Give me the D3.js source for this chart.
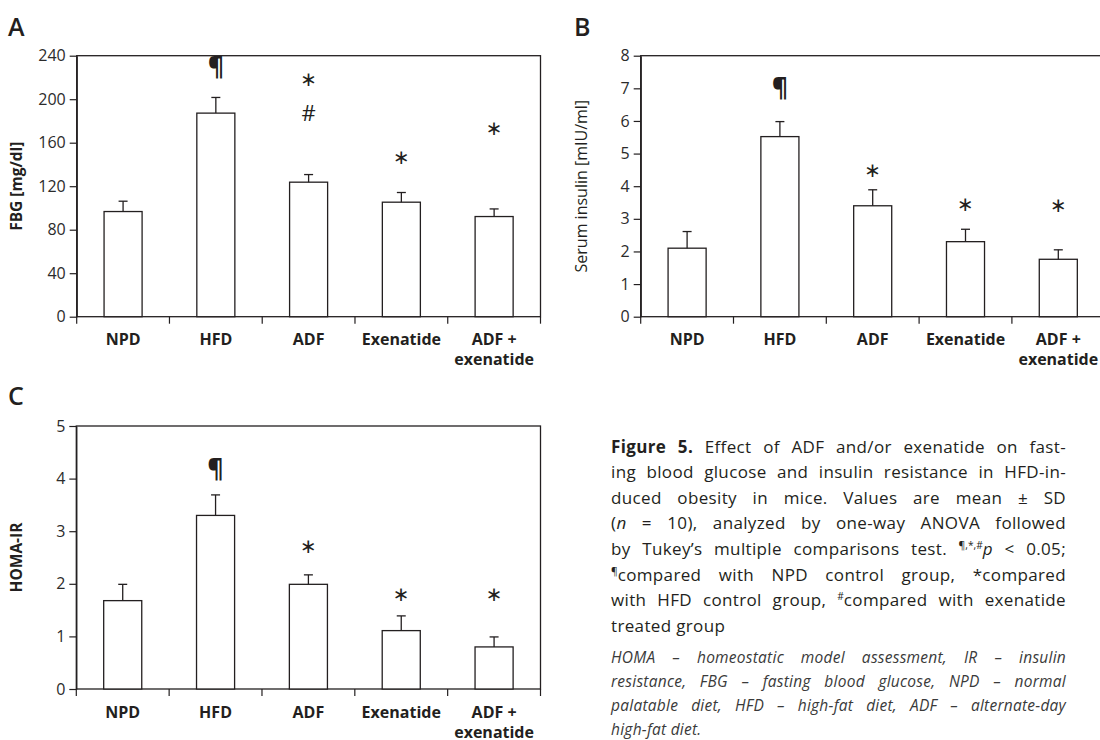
<!DOCTYPE html>
<html>
<head>
<meta charset="utf-8">
<script src="https://cdn.jsdelivr.net/npm/d3@7"></script>
<style>
	body { margin: 0; background: #fff; }
	#wrap { position: relative; width: 1100px; height: 740px; overflow: hidden; }
	svg { position: absolute; left: 0; top: 0; }
	.cap { position: absolute; font-family: "Open Sans", sans-serif; color: #231f20; }
	.cap div { text-align: justify; text-align-last: justify; }
	.cap div.last { text-align-last: left; }
	.cap sup { font-size: 0.6em; line-height: 0; vertical-align: 0.55em; letter-spacing: 0; }
</style>
</head>
<body>
<div id="wrap"></div>
<script>
var categories = ['NPD', 'HFD', 'ADF', 'Exenatide', 'ADF + exenatide'];
var categoryLines = [['NPD'], ['HFD'], ['ADF'], ['Exenatide'], ['ADF +', 'exenatide']];

// A: fasting blood glucose
var fbgMean = [96.7, 187.2, 123.7, 105.3, 92.1];
var fbgSD = [9.5, 14.4, 7.0, 8.9, 7.0];
var fbgTicks = [0, 40, 80, 120, 160, 200, 240];
var fbgMarks = [['HFD', '¶', 230], ['ADF', '*', 218.8], ['ADF', '#', 187.2], ['Exenatide', '*', 147.3], ['ADF + exenatide', '*', 174]];

// B: serum insulin
var insulinMean = [2.10, 5.52, 3.40, 2.30, 1.76];
var insulinSD = [0.51, 0.46, 0.49, 0.38, 0.29];
var insulinTicks = [0, 1, 2, 3, 4, 5, 6, 7, 8];
var insulinMarks = [['HFD', '¶', 7.0], ['ADF', '*', 4.5], ['Exenatide', '*', 3.46], ['ADF + exenatide', '*', 3.43]];

// C: HOMA-IR
var homaMean = [1.68, 3.30, 1.99, 1.11, 0.80];
var homaSD = [0.31, 0.39, 0.18, 0.28, 0.19];
var homaTicks = [0, 1, 2, 3, 4, 5];
var homaMarks = [['HFD', '¶', 4.19], ['ADF', '*', 2.72], ['Exenatide', '*', 1.82], ['ADF + exenatide', '*', 1.82]];

var ink = '#231f20';
var wrap = d3.select('#wrap');
var svg = wrap.append('svg').attr('width', 1100).attr('height', 740);

var drawPanel = function (p) {
	var g = svg.append('g'),
		x = d3.scaleBand().domain(categories).range([p.left, p.right]).padding(0),
		y = d3.scaleLinear().domain([0, p.ticks[p.ticks.length - 1]]).range([p.bottom, p.top]),
		barW = x.bandwidth() * 0.41;

	// frame
	g.append('rect')
		.attr('x', p.left).attr('y', p.top)
		.attr('width', p.right - p.left).attr('height', p.bottom - p.top)
		.attr('fill', 'none').attr('stroke', ink).attr('stroke-width', 1.3);

	// y axis
	var ya = g.append('g')
		.attr('transform', 'translate(' + p.left + ',0)')
		.call(d3.axisLeft(y).tickValues(p.ticks).tickSize(7).tickSizeOuter(0).tickPadding(4).tickFormat(d3.format('d')));
	ya.select('.domain').attr('stroke', ink).attr('stroke-width', 1.3);
	ya.selectAll('.tick line').attr('stroke', ink).attr('stroke-width', 1.2);
	ya.selectAll('.tick text')
		.attr('fill', '#2b2b2b')
		.style('font-family', '"Open Sans", sans-serif')
		.style('font-size', '16px');

	// x boundary ticks
	var bounds = categories.map(function (c) { return x(c); }).concat([x.range()[1]]);
	g.selectAll('.xtick')
		.data(bounds)
		.enter().append('line')
			.attr('x1', function (d) { return d; }).attr('x2', function (d) { return d; })
			.attr('y1', p.bottom).attr('y2', p.bottom + 7)
			.attr('stroke', ink).attr('stroke-width', 1.2);

	// category labels
	categories.forEach(function (c, i) {
		var t = g.append('text')
			.attr('x', x(c) + x.bandwidth() / 2)
			.attr('y', p.bottom + 28.5)
			.attr('text-anchor', 'middle')
			.attr('fill', ink)
			.style('font-family', '"Open Sans", sans-serif')
			.style('font-weight', 'bold')
			.style('font-size', '16px');
		categoryLines[i].forEach(function (line, j) {
			t.append('tspan')
				.attr('x', x(c) + x.bandwidth() / 2)
				.attr('dy', j === 0 ? 0 : 20)
				.text(line);
		});
	});

	// bars
	g.selectAll('.bar')
		.data(p.mean)
		.enter().append('rect')
			.attr('x', function (d, i) { return x(categories[i]) + (x.bandwidth() - barW) / 2; })
			.attr('y', function (d) { return y(d); })
			.attr('width', barW)
			.attr('height', function (d) { return y(0) - y(d); })
			.attr('fill', '#fff').attr('stroke', ink).attr('stroke-width', 1.3);

	// error bars (upper only)
	p.mean.forEach(function (m, i) {
		var cx = x(categories[i]) + x.bandwidth() / 2,
			top = y(m + p.sd[i]);
		g.append('line')
			.attr('x1', cx).attr('x2', cx).attr('y1', y(m)).attr('y2', top)
			.attr('stroke', ink).attr('stroke-width', 1.3);
		g.append('line')
			.attr('x1', cx - 4.5).attr('x2', cx + 4.5).attr('y1', top).attr('y2', top)
			.attr('stroke', ink).attr('stroke-width', 1.3);
	});

	// significance marks
	p.marks.forEach(function (mk) {
		var cx = x(mk[0]) + x.bandwidth() / 2,
			cy = y(mk[2]),
			t = g.append('text')
				.attr('x', cx)
				.attr('text-anchor', 'middle')
				.attr('fill', ink);
		if (mk[1] === '*') {
			t.attr('y', cy + 7.5)
				.style('font-family', '"DejaVu Sans", sans-serif')
				.style('font-size', '20px')
				.text('∗');
		} else if (mk[1] === '¶') {
			t.attr('y', cy + 8)
				.style('font-family', '"Open Sans", sans-serif')
				.style('font-weight', 'bold')
				.style('font-size', '25px')
				.text('¶');
		} else {
			t.attr('y', cy + 8)
				.style('font-family', '"Open Sans", sans-serif')
				.style('font-size', '22px')
				.text(mk[1]);
		}
	});

	// y title
	g.append('text')
		.attr('transform', 'translate(' + p.titleX + ',' + (p.top + p.bottom) / 2 + ') rotate(-90)')
		.attr('text-anchor', 'middle')
		.attr('dominant-baseline', 'central')
		.attr('fill', ink)
		.style('font-family', '"Open Sans", sans-serif')
		.style('font-weight', p.titleBold ? 'bold' : 'normal')
		.style('font-size', p.titleBold ? '15.5px' : '16px')
		.text(p.title);

	// panel letter
	g.append('text')
		.attr('x', p.letterX).attr('y', p.letterY)
		.attr('fill', ink)
		.style('font-family', '"Open Sans", sans-serif')
		.style('font-weight', 600)
		.style('font-size', '25px')
		.text(p.letter);
};

drawPanel({ left: 76.7, right: 540.5, top: 55.7, bottom: 316.7, ticks: fbgTicks, mean: fbgMean, sd: fbgSD, marks: fbgMarks,
	title: 'FBG [mg/dl]', titleBold: true, titleX: 15.5, letter: 'A', letterX: 8, letterY: 36 });
drawPanel({ left: 640.7, right: 1104.7, top: 55.7, bottom: 316.7, ticks: insulinTicks, mean: insulinMean, sd: insulinSD, marks: insulinMarks,
	title: 'Serum insulin [mIU/ml]', titleBold: false, titleX: 581, letter: 'B', letterX: 574, letterY: 36 });
drawPanel({ left: 76.3, right: 540.5, top: 426, bottom: 689, ticks: homaTicks, mean: homaMean, sd: homaSD, marks: homaMarks,
	title: 'HOMA-IR', titleBold: true, titleX: 15.5, letter: 'C', letterX: 8, letterY: 405 });

// caption
var captionLines = [
	'<b>Figure 5.</b> Effect of ADF and/or exenatide on fast-',
	'ing blood glucose and insulin resistance in HFD-in-',
	'duced obesity in mice. Values are mean ± SD',
	'(<i>n</i> = 10), analyzed by one-way ANOVA followed',
	'by Tukey’s multiple comparisons test. <sup>¶,*,#</sup><i>p</i> &lt; 0.05;',
	'<sup>¶</sup>compared with NPD control group, *compared',
	'with HFD control group, <sup>#</sup>compared with exenatide',
	'treated group'
];
var noteLines = [
	'HOMA – homeostatic model assessment, IR – insulin',
	'resistance, FBG – fasting blood glucose, NPD – normal',
	'palatable diet, HFD – high-fat diet, ADF – alternate-day',
	'high-fat diet.'
];

var block = function (lines, top, size, lh, italic, color, spacing) {
	var box = wrap.append('div')
		.attr('class', 'cap')
		.style('left', '611px').style('top', top + 'px').style('width', '455px')
		.style('font-size', size + 'px').style('line-height', lh + 'px')
		.style('letter-spacing', spacing + 'px')
		.style('font-style', italic ? 'italic' : 'normal')
		.style('color', color);
	box.selectAll('div')
		.data(lines)
		.enter().append('div')
			.classed('last', function (d, i) { return i === lines.length - 1; })
			.style('height', lh + 'px')
			.html(function (d) { return d; })
			.each(function () {
				var fs = size, ls = spacing;
				while (this.scrollHeight > lh * 1.5 && fs > 10) {
					if (ls > 0) {
						ls = Math.max(0, ls - 0.05);
						this.style.letterSpacing = ls + 'px';
					} else {
						fs -= 0.25;
						this.style.fontSize = fs + 'px';
					}
				}
			});
};

block(captionLines, 433.6, 17, 25.6, false, ink, 0.35);
block(noteLines, 644.5, 15.5, 24.2, true, '#3a3a3a', 0.25);
</script>
</body>
</html>
